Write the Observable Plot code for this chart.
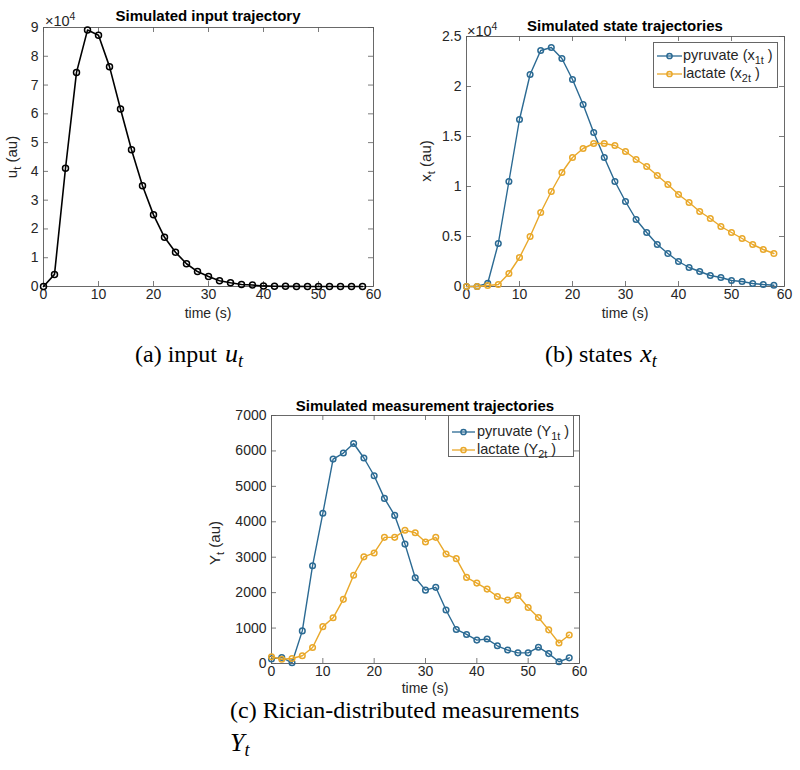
<!DOCTYPE html>
<html>
<head>
<meta charset="utf-8">
<script src="https://cdn.jsdelivr.net/npm/d3@7"></script>
<script src="https://cdn.jsdelivr.net/npm/@observablehq/plot@0.6"></script>
<style>
  html, body { margin: 0; padding: 0; background: #fff; }
  #root { position: relative; width: 800px; height: 770px; background: #fff; overflow: hidden; }
  .abs { position: absolute; white-space: nowrap; }
  .sans { font-family: "Liberation Sans", Arial, Helvetica, sans-serif; color: #262626; }
  .title { font-weight: bold; font-size: 15px; color: #000; transform: translate(-50%, -50%); }
  .xlab { font-size: 14px; line-height: 13px; transform: translate(-50%, -50%); }
  .ylab { font-size: 15px; transform: translate(-50%, -50%) rotate(-90deg); }
  .mult { font-size: 14.5px; }
  .mult sup { font-size: 10.5px; vertical-align: 6px; }
  .ylab sub, .leg sub { font-size: 0.75em; vertical-align: -0.35em; }
  .cap { font-family: "Liberation Serif", "Times New Roman", serif; font-size: 24px; line-height: 22px; color: #000; }
  .cap .m { font-size: 26px; margin-left: 8px; }
  .cap sub { font-size: 0.7em; vertical-align: -0.3em; }
  .leg { border: 1px solid #666; background: #fff; box-sizing: border-box; font-size: 14.5px; }
  .leg .row { position: absolute; left: 0; display: flex; align-items: center; }
  .leg svg { display: block; }
  .panel { position: absolute; }
</style>
</head>
<body>
<div id="root"></div>
<script>
// ---- data ----
const time = [0, 2, 4, 6, 8, 10, 12, 14, 16, 18, 20, 22, 24, 26, 28, 30, 32, 34, 36, 38, 40, 42, 44, 46, 48, 50, 52, 54, 56, 58];

const inputU = [0, 4200, 41100, 74400, 89100, 87300, 76400, 61700, 47500, 35000, 24900, 17100, 11900, 7900, 5200, 3500, 2000, 1300, 700, 500, 200, 100, 50, 30, 20, 10, 10, 10, 10, 10];

const statePyruvate = [0, 0, 330, 4300, 10500, 16700, 21200, 23600, 23900, 22800, 20700, 18200, 15400, 12900, 10500, 8500, 6700, 5400, 4200, 3300, 2500, 1900, 1500, 1100, 900, 600, 500, 300, 200, 130];
const stateLactate = [0, 0, 100, 200, 1300, 2900, 5000, 7400, 9500, 11400, 12900, 13800, 14300, 14300, 14100, 13500, 12700, 12000, 11100, 10200, 9200, 8400, 7500, 6800, 6000, 5400, 4800, 4200, 3700, 3300];

const measPyruvate = [130, 170, 20, 920, 2760, 4240, 5770, 5940, 6210, 5800, 5300, 4660, 4180, 3370, 2420, 2070, 2150, 1510, 960, 820, 660, 690, 500, 380, 300, 300, 460, 280, 50, 160];
const measLactate = [190, 120, 140, 220, 450, 1040, 1290, 1810, 2490, 3010, 3120, 3560, 3560, 3760, 3690, 3430, 3560, 3090, 2960, 2430, 2270, 2100, 1890, 1790, 1920, 1580, 1300, 950, 580, 805];

const xTicks = [0, 10, 20, 30, 40, 50, 60];
const uTicks = [0, 10000, 20000, 30000, 40000, 50000, 60000, 70000, 80000, 90000];
const xStateTicks = [0, 5000, 10000, 15000, 20000, 25000];
const yMeasTicks = [0, 1000, 2000, 3000, 4000, 5000, 6000, 7000];

const BLUE = "#2b6a93";
const ORANGE = "#e9a82a";
const AXIS = "#5a5a5a";

const root = document.getElementById("root");

function rows(vals) { return time.map((t, i) => ({t, v: vals[i]})); }

function panel({fl, ft, fw, fh, yDomain, yTicks, yFmt, series}) {
  const ml = Math.min(60, Math.floor(fl)), mr = 12, mt = 10, mb = 30;
  const marks = [
    Plot.ruleX(xTicks, {x: d => d, insetTop: fh - 5, stroke: AXIS, strokeWidth: 0.8}),
    Plot.ruleX(xTicks, {x: d => d, insetBottom: fh - 5, stroke: AXIS, strokeWidth: 0.8}),
    Plot.ruleY(yTicks, {y: d => d, insetRight: fw - 5, stroke: AXIS, strokeWidth: 0.8}),
    Plot.ruleY(yTicks, {y: d => d, insetLeft: fw - 5, stroke: AXIS, strokeWidth: 0.8}),
    Plot.frame({stroke: AXIS, strokeWidth: 0.9}),
    Plot.axisX({ticks: xTicks, tickSize: 0, tickPadding: 3, label: null, fontSize: 14}),
    Plot.axisY({ticks: yTicks, tickSize: 0, tickPadding: 5, label: null, fontSize: 14, tickFormat: yFmt})
  ];
  for (const s of series) {
    const data = rows(s.values);
    marks.push(Plot.line(data, {x: "t", y: "v", stroke: s.color, strokeWidth: s.lw}));
    marks.push(Plot.dot(data, {x: "t", y: "v", r: s.r, stroke: s.color, strokeWidth: 1.5, fill: "none"}));
  }
  const chart = Plot.plot({
    width: ml + fw + mr,
    height: mt + fh + mb,
    marginLeft: ml, marginRight: mr, marginTop: mt, marginBottom: mb,
    x: {domain: [0, 60]},
    y: {domain: yDomain},
    style: {fontFamily: '"Liberation Sans", Arial, Helvetica, sans-serif', fontSize: "14px", color: "#262626", background: "transparent", overflow: "visible"},
    marks
  });
  const wrap = document.createElement("div");
  wrap.className = "panel";
  wrap.style.left = (fl - ml) + "px";
  wrap.style.top = (ft - mt) + "px";
  wrap.appendChild(chart);
  root.appendChild(wrap);
}

function text(cls, html, x, y) {
  const d = document.createElement("div");
  d.className = "abs " + cls;
  d.style.left = x + "px";
  d.style.top = y + "px";
  d.innerHTML = html;
  root.appendChild(d);
  return d;
}

function legend(x, y, w, h, items, rowYs, swL, swR, txtX) {
  const box = document.createElement("div");
  box.className = "abs sans leg";
  box.style.left = x + "px"; box.style.top = y + "px";
  box.style.width = w + "px"; box.style.height = h + "px";
  items.forEach((it, i) => {
    const r = document.createElement("div");
    r.className = "row";
    r.style.top = (rowYs[i] - y - 10) + "px";
    r.style.height = "20px";
    r.style.left = (swL - x - 1) + "px";
    const sw = swR - swL;
    r.innerHTML = `<svg width="${sw}" height="20"><line x1="0" y1="10" x2="${sw}" y2="10" stroke="${it.color}" stroke-width="1.3"/><circle cx="${sw/2}" cy="10" r="2.6" fill="none" stroke="${it.color}" stroke-width="1.5"/></svg><span style="margin-left:${txtX - swR}px">${it.label}</span>`;
    box.appendChild(r);
  });
  root.appendChild(box);
}

const fmt4 = d => d === 0 ? "0" : String(+(d / 10000).toFixed(1));

// (a) input trajectory
panel({fl: 43, ft: 27, fw: 330, fh: 259, yDomain: [0, 90000], yTicks: uTicks, yFmt: fmt4,
  series: [{values: inputU, color: "#000", lw: 1.6, r: 3}]});
text("sans title", "Simulated input trajectory", 208, 15);
text("sans mult", "×10<sup>4</sup>", 45, 10);
text("sans ylab", "u<sub>t</sub> (au)", 13, 157);
text("sans xlab", "time (s)", 208, 313);
text("cap", "(a) input<span class=\"m\"><i>u</i><sub><i>t</i></sub></span>", 135, 343);

// (b) state trajectories
panel({fl: 466, ft: 36, fw: 318, fh: 250, yDomain: [0, 25000], yTicks: xStateTicks, yFmt: fmt4,
  series: [{values: statePyruvate, color: BLUE, lw: 1.4, r: 2.8}, {values: stateLactate, color: ORANGE, lw: 1.4, r: 2.8}]});
text("sans title", "Simulated state trajectories", 625, 25);
text("sans mult", "×10<sup>4</sup>", 467, 20);
text("sans ylab", "x<sub>t</sub> (au)", 427, 161);
text("sans xlab", "time (s)", 625, 313);
text("cap", "(b) states<span class=\"m\"><i>x</i><sub><i>t</i></sub></span>", 545, 343);
legend(653, 42, 125, 46,
  [{color: BLUE, label: "pyruvate (x<sub>1t</sub> )"}, {color: ORANGE, label: "lactate (x<sub>2t</sub> )"}],
  [55, 73], 657, 682, 683);

// (c) measurement trajectories
panel({fl: 271, ft: 415, fw: 308, fh: 248, yDomain: [0, 7000], yTicks: yMeasTicks, yFmt: d => String(d),
  series: [{values: measPyruvate, color: BLUE, lw: 1.4, r: 2.8}, {values: measLactate, color: ORANGE, lw: 1.4, r: 2.8}]});
text("sans title", "Simulated measurement trajectories", 425, 405);
text("sans ylab", "Y<sub>t</sub> (au)", 216, 543);
text("sans xlab", "time (s)", 425, 688);
text("cap", "(c) Rician-distributed measurements", 230, 699);
text("cap", "<span style=\"font-size:26px\"><i>Y</i><sub><i>t</i></sub></span>", 230, 732);
legend(448, 415, 126, 42,
  [{color: BLUE, label: "pyruvate (Y<sub>1t</sub> )"}, {color: ORANGE, label: "lactate (Y<sub>2t</sub> )"}],
  [431, 449], 452, 475, 477);
</script>
</body>
</html>
